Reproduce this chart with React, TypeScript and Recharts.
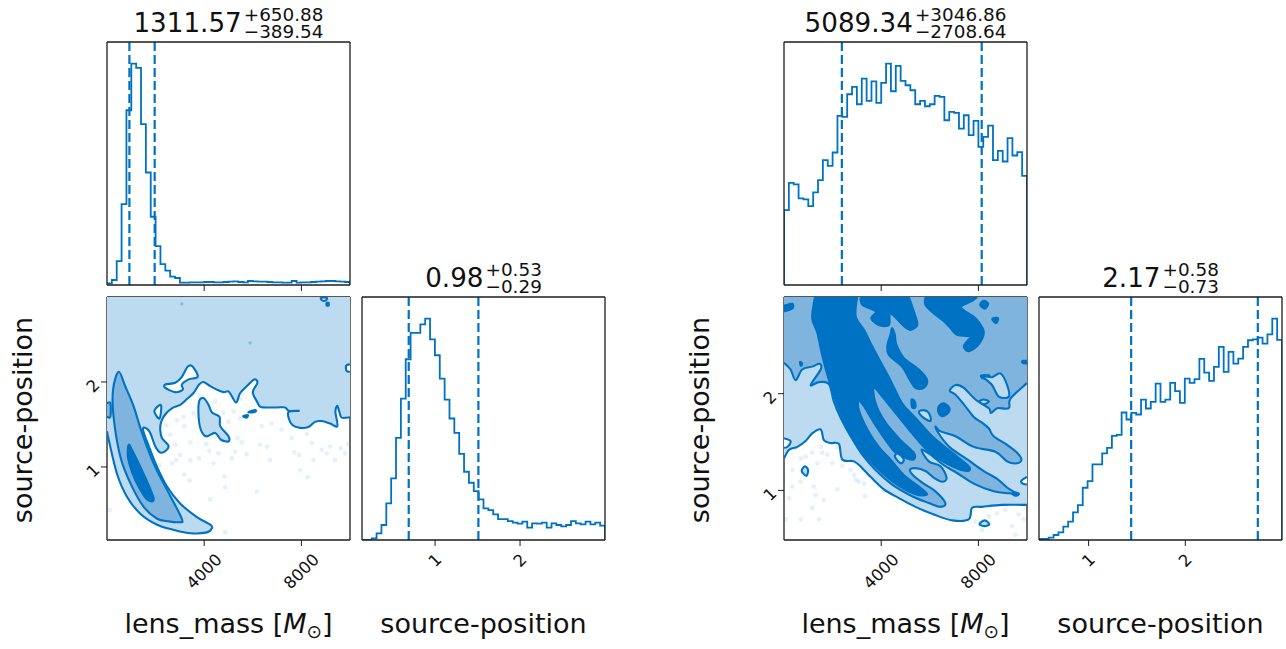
import React from 'react';
import {
  LineChart,
  Line,
  ScatterChart,
  Scatter,
  XAxis,
  YAxis,
  ReferenceLine,
} from 'recharts';

const BLUE = '#0072C4';
const LEVEL_FILL: Record<string, string> = {
  white: '#ffffff',
  light: '#BCDAF0',
  mid: '#7FB4DE',
  dark: BLUE,
};
const FONT = '"DejaVu Sans", sans-serif';
const PLOT = 243;

const massDomain = [0, 10000];
const massTicks = [4000, 8000];
const leftSourceDomain = [0.14, 3];
const rightSourceDomain = [0.487, 3];
const sourceTicks = [1, 2];

const leftMassCounts = [
  5, 15, 72, 243, 525, 665, 652, 483, 338, 205, 117, 63, 43, 25, 21, 7, 7, 8, 8, 8, 9, 9, 8, 8, 9,
  10, 11, 9, 8, 12, 11, 10, 10, 9, 8, 8, 7, 7, 12, 7, 8, 8, 9, 10, 11, 12, 12, 11, 10, 9,
];
const leftSourceCounts = [
  0, 0, 5, 20, 45, 110, 185, 307, 425, 543, 622, 622, 648, 665, 603, 555, 485, 422, 365, 322, 259,
  205, 172, 147, 122, 95, 90, 77, 63, 63, 57, 52, 49, 55, 37, 50, 49, 52, 37, 50, 45, 41, 45, 57,
  50, 47, 55, 47, 52, 43,
];
const rightMassCounts = [
  225, 307, 302, 260, 257, 237, 278, 315, 375, 358, 398, 508, 505, 573, 595, 543, 620, 553, 612,
  547, 607, 665, 582, 658, 613, 600, 585, 543, 553, 537, 543, 568, 565, 495, 520, 517, 470, 510,
  450, 493, 415, 445, 479, 375, 403, 371, 441, 389, 399, 328,
];
const rightSourceCounts = [
  3, 3, 7, 15, 23, 40, 55, 83, 105, 157, 177, 227, 227, 260, 277, 313, 316, 383, 362, 382, 377, 422,
  395, 415, 470, 415, 422, 472, 447, 412, 485, 472, 483, 544, 503, 478, 520, 580, 505, 565, 530,
  545, 580, 600, 603, 608, 590, 618, 665, 601,
];

const leftMassQuantiles = [922, 1962];
const leftSourceQuantiles = [0.69, 1.51];
const rightMassQuantiles = [2381, 8136];
const rightSourceQuantiles = [1.44, 2.75];

// left 2d panel, [lens_mass, source-position]
const leftOuter = [
  [0, 3], [10000, 3], [10000, 1.585], [9660, 1.58], [9560, 1.65], [9480, 1.72], [9400, 1.65],
  [9480, 1.48], [9180, 1.51], [8840, 1.54], [8560, 1.53], [8290, 1.47], [7950, 1.46], [7640, 1.49],
  [7480, 1.57], [7480, 1.65], [7900, 1.66], [7480, 1.66], [7330, 1.7], [6990, 1.7], [6510, 1.7],
  [6300, 1.71], [6170, 1.77], [6000, 1.88], [6190, 1.99], [6060, 2.03], [5750, 1.95], [5480, 1.87],
  [5320, 1.76], [5140, 1.83], [5000, 1.89], [4800, 1.88], [4520, 1.91], [4250, 1.95], [3970, 2.0],
  [3790, 1.97], [3560, 1.87], [3290, 1.8], [3010, 1.73], [2670, 1.69], [2400, 1.62], [2230, 1.53],
  [2190, 1.44], [2260, 1.34], [2530, 1.25], [2420, 1.19], [2190, 1.17], [1990, 1.24], [1780, 1.4],
  [1640, 1.45], [1480, 1.44], [1780, 1.2], [2060, 1.0], [2470, 0.77], [3010, 0.57], [3700, 0.41],
  [4250, 0.32], [4320, 0.28], [4110, 0.23], [3430, 0.22], [2740, 0.26], [2060, 0.32], [1370, 0.45],
  [820, 0.65], [410, 0.92], [70, 1.32], [0, 1.42],
];
const leftMid = [
  [480, 2.12], [750, 1.95], [1100, 1.71], [1440, 1.4], [1920, 1.04], [2470, 0.73], [3080, 0.39],
  [2950, 0.35], [2530, 0.36], [2060, 0.39], [1510, 0.53], [960, 0.81], [550, 1.12], [270, 1.59],
  [250, 1.91],
];
const leftDark = [
  [890, 1.26], [1030, 1.2], [1440, 0.96], [1920, 0.63], [1640, 0.62], [1300, 0.77], [1030, 0.94],
  [860, 1.12],
];
const leftEdgeBlob = [[0, 1.75], [140, 1.75], [140, 1.59], [0, 1.59]];
const leftHoleA = [
  [2400, 1.97], [2810, 1.99], [3080, 2.06], [3320, 2.18], [3530, 2.18], [3730, 2.06], [3360, 2.03],
  [3080, 1.97], [3120, 1.91], [2810, 1.88], [2400, 1.93],
];
const leftHoleB = [[2080, 1.71], [2230, 1.72], [2160, 1.57], [1950, 1.65]];
const leftHoleC = [[9840, 2.19], [10000, 2.21], [10000, 2.12], [9860, 2.13]];
const leftHoleD = [[8810, 2.99], [9040, 2.99], [9010, 2.96], [8850, 2.96]];
const leftIsland = [
  [3790, 1.77], [3970, 1.81], [4180, 1.73], [4320, 1.64], [4630, 1.59], [4660, 1.48], [5000, 1.36],
  [5000, 1.3], [4690, 1.32], [4450, 1.4], [4080, 1.36], [3860, 1.44], [3770, 1.59],
];
const leftSliver = [[5850, 1.65], [6100, 1.67], [6100, 1.65], [5850, 1.64]];
const leftSpeck = [[5620, 1.6], [5800, 1.61], [5750, 1.58], [5630, 1.59]];
const leftSpeckTop = [[9040, 2.93], [9120, 2.93], [9120, 2.9], [9040, 2.9]];

const leftSamples = [
  [110, 0.49], [4860, 0.23], [6170, 0.71], [4860, 0.76], [4250, 0.62], [3400, 0.84], [3180, 0.91],
  [4820, 0.89], [7950, 0.96], [8250, 0.88], [2160, 1.02], [2670, 1.04], [3010, 1.14], [3430, 1.08],
  [3790, 1.1], [4210, 1.19], [4590, 1.16], [5270, 1.18], [5140, 1.1], [5750, 1.15], [6300, 1.26],
  [6580, 1.24], [6710, 1.08], [7710, 1.17], [7900, 1.14], [8490, 1.08], [9040, 1.16], [9380, 1.08],
  [9800, 1.16], [9930, 1.27], [9620, 1.22], [8430, 1.28], [8220, 1.39], [7600, 1.34], [7190, 1.44],
  [6780, 1.51], [6370, 1.48], [5210, 1.65], [5480, 1.57], [5000, 1.53], [4800, 1.64], [3560, 1.63],
  [3150, 1.59], [2880, 1.55], [3180, 1.48], [2440, 1.49], [2600, 1.38], [2810, 1.26], [3430, 1.29],
  [4080, 1.27], [5370, 1.34], [5550, 1.29], [3840, 1.83], [4450, 1.77], [5480, 1.8], [9180, 1.24],
  [8840, 1.2], [2850, 1.08], [4380, 1.04],
];
const leftTopSamples = [[3080, 2.92], [5890, 2.46]];

// right 2d panel
const rightOuter = [
  [0, 1.33], [210, 1.42], [550, 1.45], [890, 1.51], [1160, 1.59], [1510, 1.63], [1640, 1.52],
  [1920, 1.49], [2260, 1.48], [2400, 1.32], [2880, 1.3], [3220, 1.23], [3560, 1.14], [4110, 1.01],
  [4730, 0.92], [5410, 0.83], [6170, 0.75], [6920, 0.69], [7600, 0.7], [7740, 0.82], [8150, 0.83],
  [8970, 0.85], [10000, 0.85], [10000, 3], [0, 3],
];
const rightMid = [
  [0, 2.32], [270, 2.25], [480, 2.14], [750, 2.25], [1160, 2.28], [1470, 2.31], [1510, 2.25],
  [1100, 2.09], [1440, 2.12], [1850, 2.1], [2050, 1.92], [2330, 1.75], [2740, 1.56], [3220, 1.37],
  [3770, 1.21], [4450, 1.06], [5270, 0.94], [5960, 0.87], [6440, 0.83], [6640, 0.87], [6230, 0.99],
  [5750, 1.07], [5340, 1.15], [5180, 1.21], [5410, 1.23], [5820, 1.2], [6170, 1.13], [6510, 1.09],
  [6690, 1.13], [6440, 1.25], [5960, 1.3], [5660, 1.42], [6030, 1.37], [6580, 1.26], [7120, 1.18],
  [7810, 1.07], [8630, 0.99], [9250, 0.97], [9590, 0.96], [9180, 1.03], [8770, 1.12], [8220, 1.2],
  [7540, 1.32], [6850, 1.44], [6440, 1.56], [6230, 1.66], [6440, 1.61], [7060, 1.56], [7810, 1.45],
  [8700, 1.4], [9180, 1.3], [9590, 1.28], [9770, 1.32], [9590, 1.39], [9180, 1.47], [8630, 1.56],
  [8430, 1.64], [8150, 1.7], [7810, 1.76], [7400, 1.89], [7060, 1.99], [6820, 2.03], [7060, 2.09],
  [7400, 2.06], [7880, 1.94], [8430, 1.85], [8520, 1.8], [8770, 1.85], [9250, 1.85], [9320, 1.95],
  [10000, 2.11], [10000, 3], [0, 3],
];
const rightBody = [
  [1270, 3], [3010, 3], [2950, 2.8], [3290, 2.66], [3630, 2.49], [3970, 2.33], [4380, 2.14],
  [4860, 1.9], [5410, 1.75], [6100, 1.56], [6920, 1.39], [7600, 1.25], [7540, 1.2], [6920, 1.25],
  [6230, 1.35], [5750, 1.45], [5140, 1.63], [4590, 1.8], [4110, 1.95], [3700, 2.06], [3770, 1.9],
  [4180, 1.7], [4800, 1.52], [5340, 1.39], [5340, 1.32], [5070, 1.33], [4590, 1.39], [4180, 1.52],
  [3700, 1.7], [3290, 1.87], [3080, 1.93], [3080, 1.83], [3430, 1.63], [3900, 1.45], [4380, 1.32],
  [4930, 1.16], [5550, 1.04], [5890, 0.96], [5410, 0.96], [4590, 1.07], [3840, 1.23], [3150, 1.42],
  [2600, 1.64], [2190, 1.89], [1850, 2.14], [1580, 2.39], [1370, 2.63], [1160, 2.78],
];
const rightTopBlob = [
  [3150, 3], [5140, 3], [5410, 2.8], [5480, 2.71], [5210, 2.66], [4930, 2.7], [4380, 2.83],
  [4320, 2.71], [3900, 2.71], [3590, 2.78], [3770, 2.85], [3220, 2.92],
];
const rightMidBlob = [
  [4450, 2.68], [4560, 2.61], [4620, 2.51], [4930, 2.37], [5550, 2.25], [5890, 2.14], [5750, 2.06],
  [5410, 2.06], [5140, 2.16], [4860, 2.28], [4320, 2.4], [4250, 2.49], [4380, 2.61],
];
const rightCornerBlob = [
  [5820, 3], [7950, 3], [7740, 2.96], [7290, 2.9], [7470, 2.85], [7880, 2.78], [8220, 2.64],
  [8010, 2.51], [7600, 2.44], [7400, 2.49], [7600, 2.56], [7740, 2.59], [7120, 2.61], [6850, 2.68],
  [6580, 2.75], [6170, 2.83], [5820, 2.92],
];
const rightSpecks = [
  [[8220, 2.96], [8400, 2.93], [8260, 2.88], [8070, 2.92]],
  [[8600, 2.78], [8810, 2.78], [8730, 2.73], [8590, 2.76]],
  [[0, 2.91], [340, 2.93], [340, 2.88], [0, 2.85]],
  [[6370, 1.87], [6580, 1.9], [6810, 1.85], [6710, 1.79], [6480, 1.77], [6340, 1.82]],
  [[5250, 1.94], [5380, 1.92], [5410, 1.86], [5270, 1.86]],
  [[660, 2.33], [750, 2.31], [690, 2.29]],
  [[9820, 2.34], [10000, 2.34], [10000, 2.31], [9820, 2.32]],
  [[8120, 2.19], [8430, 2.19], [8430, 2.16], [8180, 2.16]],
  [[9430, 0.98], [9650, 0.97], [9620, 0.95], [9450, 0.95]],
];
const rightLightHoles = [
  [[8180, 2.18], [8560, 2.17], [8910, 2.21], [9180, 2.09], [9250, 1.97], [8840, 1.97], [8560, 2.09]],
  [[8040, 1.92], [8220, 1.94], [8430, 1.92], [8220, 1.89]],
  [[5550, 1.81], [5750, 1.83], [5960, 1.8], [6040, 1.72], [5750, 1.75]],
  [[4560, 1.35], [4700, 1.38], [4930, 1.32], [4800, 1.28]],
  [[730, 1.2], [860, 1.25], [990, 1.21], [920, 1.15]],
  [[8040, 0.65], [8260, 0.69], [8450, 0.65], [8260, 0.63]],
];
const rightWhiteHoles = [
  [[0, 1.54], [270, 1.51], [140, 1.45], [0, 1.44]],
  [[9770, 1.1], [10000, 1.14], [10000, 1.06], [9820, 1.07]],
];
const rightSamples = [
  [340, 1.21], [690, 1.33], [1160, 1.39], [1580, 1.39], [480, 1.44], [890, 1.35], [1370, 1.28],
  [1780, 1.37], [1990, 1.28], [2400, 1.25], [2740, 1.21], [2950, 1.11], [3290, 1.07], [2190, 1.01],
  [1230, 1.04], [690, 1.09], [340, 1.04], [210, 0.92], [1300, 0.95], [1640, 0.9], [3330, 0.94],
  [1160, 0.82], [1440, 0.7], [690, 0.7], [4110, 0.99], [5070, 0.87], [9110, 0.8], [8770, 0.76],
  [9660, 0.75], [9860, 0.7], [9380, 0.63], [8430, 0.73], [8150, 0.59], [9520, 0.54], [7880, 0.68],
  [1510, 1.45], [2190, 1.45], [2880, 1.16], [3080, 1.09], [70, 0.7],
];

const leftContours = [
  { level: 'light', points: leftOuter },
  { level: 'mid', points: leftMid },
  { level: 'dark', points: leftDark },
  { level: 'mid', points: leftEdgeBlob },
  { level: 'white', points: leftHoleA },
  { level: 'white', points: leftHoleB },
  { level: 'white', points: leftHoleC },
  { level: 'white', points: leftHoleD },
  { level: 'light', points: leftIsland },
  { level: 'dark', points: leftSliver },
  { level: 'dark', points: leftSpeck },
  { level: 'dark', points: leftSpeckTop },
];
const rightContours = [
  { level: 'light', points: rightOuter },
  { level: 'mid', points: rightMid },
  { level: 'dark', points: rightBody },
  { level: 'dark', points: rightTopBlob },
  { level: 'dark', points: rightMidBlob },
  { level: 'dark', points: rightCornerBlob },
  ...rightSpecks.map((points) => ({ level: 'dark', points })),
  ...rightLightHoles.map((points) => ({ level: 'light', points })),
  ...rightWhiteHoles.map((points) => ({ level: 'white', points })),
];

// histogram outline, starts and ends on the baseline
function toSteps(counts: number[], domain: number[]) {
  const width = (domain[1] - domain[0]) / counts.length;
  const rows = [{ x: domain[0], y: 0 }];
  counts.forEach((y, i) => rows.push({ x: domain[0] + i * width, y }));
  rows.push({ x: domain[1], y: counts[counts.length - 1] });
  rows.push({ x: domain[1], y: 0 });
  return rows;
}

const EmptyTick = () => <g />;

function RotatedXTick({ x, y, payload }: any) {
  const size = 16.4;
  const len = String(payload.value).length * 0.636 * size;
  const half = ((len + 0.73 * size) * 0.707) / 2;
  const cy = y + 4.5 + half;
  return (
    <text
      x={x}
      y={cy}
      transform={`rotate(-45 ${x} ${cy})`}
      textAnchor="middle"
      dominantBaseline="central"
      fontSize={size}
      fontFamily={FONT}
      fill="#111"
    >
      {payload.value}
    </text>
  );
}

function RotatedYTick({ x, y, payload }: any) {
  const cx = x - 6;
  const cy = y + 4;
  return (
    <text
      x={cx}
      y={cy}
      transform={`rotate(-45 ${cx} ${cy})`}
      textAnchor="middle"
      dominantBaseline="central"
      fontSize={16.4}
      fontFamily={FONT}
      fill="#111"
    >
      {payload.value}
    </text>
  );
}

// top and right spines, drawn after the marks
function frameAxes(xDomain: number[], yDomain: number[]) {
  const line = { stroke: '#1c1c1c', strokeWidth: 1.3 };
  return [
    <XAxis key="fx" xAxisId="top" orientation="top" type="number" domain={xDomain} height={1} tick={false} tickLine={false} axisLine={line} allowDataOverflow />,
    <YAxis key="fy" yAxisId="right" orientation="right" type="number" domain={yDomain} width={1} tick={false} tickLine={false} axisLine={line} allowDataOverflow />,
  ];
}

function Histogram({ left, top, counts, domain, ticks, quantiles, showTickLabels }: any) {
  const yDomain = [0, 730];
  return (
    <div style={{ position: 'absolute', left: left - 60, top: top - 10 }}>
      <LineChart
        width={PLOT + 70}
        height={PLOT + 80}
        data={toSteps(counts, domain)}
        margin={{ top: 9, right: 9, left: 0, bottom: 0 }}
      >
        <Line
          dataKey="y"
          type="stepAfter"
          stroke={BLUE}
          strokeWidth={1.8}
          dot={false}
          isAnimationActive={false}
        />
        {quantiles.map((q: number) => (
          <ReferenceLine key={q} x={q} stroke={BLUE} strokeWidth={2.2} strokeDasharray="9 4" />
        ))}
        <XAxis
          dataKey="x"
          type="number"
          domain={domain}
          ticks={ticks}
          height={70}
          interval={0}
          allowDataOverflow
          tickSize={6}
          tick={showTickLabels ? RotatedXTick : EmptyTick}
          tickLine={{ stroke: '#1c1c1c' }}
          axisLine={{ stroke: '#1c1c1c', strokeWidth: 1.3 }}
        />
        <YAxis
          type="number"
          domain={yDomain}
          width={60}
          tick={false}
          tickLine={false}
          axisLine={{ stroke: '#1c1c1c', strokeWidth: 1.3 }}
          allowDataOverflow
        />
        {frameAxes(domain, yDomain)}
      </LineChart>
    </div>
  );
}

const NoDot = () => <g />;
const SampleDot = ({ cx, cy }: any) => (
  <circle cx={cx} cy={cy} r={2.4} fill={BLUE} fillOpacity={0.1} />
);
const TopDot = ({ cx, cy }: any) => (
  <circle cx={cx} cy={cy} r={1.6} fill={BLUE} fillOpacity={0.3} />
);

function contourPath(level: string, rows: { x: number; y: number }[], yDomain: number[]) {
  const onEdge = (a: any, b: any) =>
    (a.x === b.x && (a.x === massDomain[0] || a.x === massDomain[1])) ||
    (a.y === b.y && (a.y === yDomain[0] || a.y === yDomain[1]));
  return (props: any) => {
    const pts = props.points;
    const n = pts.length;
    const at = (i: number) => pts[(i + n) % n];
    const edgeFrom = (i: number) => onEdge(rows[(i + n) % n], rows[(i + 1 + n) % n]);
    const start = `M${pts[0].x} ${pts[0].y}`;
    let area = start;
    let outline = start;
    // rounded between points, straight along the frame, where no line is drawn
    for (let i = 0; i < n; i += 1) {
      const b = at(i);
      const c = at(i + 1);
      const a = edgeFrom(i - 1) ? b : at(i - 1);
      const d = edgeFrom(i + 1) ? c : at(i + 2);
      if (edgeFrom(i)) {
        area += `L${c.x} ${c.y}`;
        outline += `M${c.x} ${c.y}`;
      } else {
        const seg = `C${b.x + (c.x - a.x) / 6} ${b.y + (c.y - a.y) / 6} ${c.x - (d.x - b.x) / 6} ${c.y - (d.y - b.y) / 6} ${c.x} ${c.y}`;
        area += seg;
        outline += seg;
      }
    }
    return (
      <g>
        <path d={area + 'Z'} fill={LEVEL_FILL[level]} stroke="none" />
        <path d={outline} fill="none" stroke={BLUE} strokeWidth={2.1} strokeLinejoin="round" />
      </g>
    );
  };
}

function ContourPanel({ left, top, contours, samples, topSamples, yDomain }: any) {
  return (
    <div style={{ position: 'absolute', left: left - 60, top: top - 10 }}>
      <ScatterChart
        width={PLOT + 70}
        height={PLOT + 80}
        margin={{ top: 9, right: 9, left: 0, bottom: 0 }}
      >
        <Scatter
          data={samples.map((p: number[]) => ({ x: p[0], y: p[1] }))}
          shape={SampleDot}
          isAnimationActive={false}
        />
        {contours.map((c: any, i: number) => {
          const rows = c.points.map((p: number[]) => ({ x: p[0], y: p[1] }));
          return (
            <Scatter
              key={i}
              data={rows}
              shape={NoDot}
              line={contourPath(c.level, rows, yDomain)}
              isAnimationActive={false}
            />
          );
        })}
        {topSamples && (
          <Scatter
            data={topSamples.map((p: number[]) => ({ x: p[0], y: p[1] }))}
            shape={TopDot}
            isAnimationActive={false}
          />
        )}
        <XAxis
          dataKey="x"
          type="number"
          domain={massDomain}
          ticks={massTicks}
          height={70}
          interval={0}
          allowDataOverflow
          tickSize={6}
          tick={RotatedXTick}
          tickLine={{ stroke: '#1c1c1c' }}
          axisLine={{ stroke: '#1c1c1c', strokeWidth: 1.3 }}
        />
        <YAxis
          dataKey="y"
          type="number"
          domain={yDomain}
          ticks={sourceTicks}
          width={60}
          interval={0}
          allowDataOverflow
          tickSize={6}
          tick={RotatedYTick}
          tickLine={{ stroke: '#1c1c1c' }}
          axisLine={{ stroke: '#1c1c1c', strokeWidth: 1.3 }}
        />
        {frameAxes(massDomain, yDomain)}
      </ScatterChart>
    </div>
  );
}

function PanelTitle({ left, top, value, upper, lower }: any) {
  return (
    <div
      style={{
        position: 'absolute',
        left,
        top,
        width: PLOT,
        display: 'flex',
        justifyContent: 'center',
        fontFamily: FONT,
        color: '#111',
        whiteSpace: 'nowrap',
      }}
    >
      <span style={{ fontSize: 26.2, lineHeight: '30px', marginTop: 8 }}>{value}</span>
      <span style={{ fontSize: 18.4, lineHeight: '17px', marginLeft: 2, marginTop: 6 }}>
        <div>+{upper}</div>
        <div>−{lower}</div>
      </span>
    </div>
  );
}

const labelStyle: React.CSSProperties = {
  position: 'absolute',
  width: PLOT,
  textAlign: 'center',
  fontFamily: FONT,
  fontSize: 27,
  lineHeight: '32px',
  color: '#111',
  whiteSpace: 'nowrap',
};

function MassLabel({ left }: any) {
  return (
    <div style={{ ...labelStyle, left, top: 608 }}>
      lens_mass [<i>M</i>
      <span style={{ fontSize: 18.5, position: 'relative', top: 5 }}>⊙</span>]
    </div>
  );
}

function SourceLabel({ left }: any) {
  return <div style={{ ...labelStyle, left, top: 608 }}>source-position</div>;
}

function SourceYLabel({ centerX }: any) {
  return (
    <div
      style={{
        ...labelStyle,
        left: centerX - PLOT / 2,
        top: 404,
        transform: 'rotate(-90deg)',
      }}
    >
      source-position
    </div>
  );
}

export default function App() {
  return (
    <div style={{ position: 'absolute', left: 0, top: 0, width: 1286, height: 649, background: '#fff', overflow: 'hidden' }}>
      <Histogram left={107} top={42} counts={leftMassCounts} domain={massDomain} ticks={massTicks} quantiles={leftMassQuantiles} />
      <ContourPanel left={107} top={297} contours={leftContours} samples={leftSamples} topSamples={leftTopSamples} yDomain={leftSourceDomain} />
      <Histogram left={362} top={297} counts={leftSourceCounts} domain={leftSourceDomain} ticks={sourceTicks} quantiles={leftSourceQuantiles} showTickLabels />

      <Histogram left={784} top={42} counts={rightMassCounts} domain={massDomain} ticks={massTicks} quantiles={rightMassQuantiles} />
      <ContourPanel left={784} top={297} contours={rightContours} samples={rightSamples} yDomain={rightSourceDomain} />
      <Histogram left={1039} top={297} counts={rightSourceCounts} domain={rightSourceDomain} ticks={sourceTicks} quantiles={rightSourceQuantiles} showTickLabels />

      <PanelTitle left={107} top={0} value="1311.57" upper="650.88" lower="389.54" />
      <PanelTitle left={362} top={255} value="0.98" upper="0.53" lower="0.29" />
      <PanelTitle left={784} top={0} value="5089.34" upper="3046.86" lower="2708.64" />
      <PanelTitle left={1039} top={255} value="2.17" upper="0.58" lower="0.73" />

      <MassLabel left={107} />
      <SourceLabel left={362} />
      <MassLabel left={784} />
      <SourceLabel left={1039} />
      <SourceYLabel centerX={22} />
      <SourceYLabel centerX={699} />
    </div>
  );
}
